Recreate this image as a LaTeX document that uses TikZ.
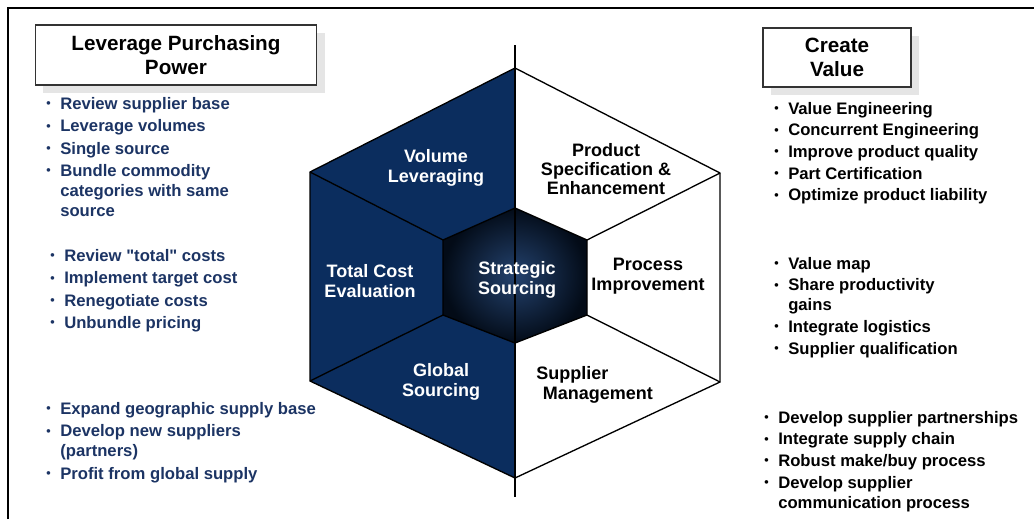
\documentclass[tikz,border=0pt]{standalone}
\usepackage{fontspec}
\setmainfont{Liberation Sans}
\usetikzlibrary{shadows}

\definecolor{hexnavy}{HTML}{0B2D5E}
\definecolor{listnavy}{HTML}{1C3464}

\newcommand{\bul}{\makebox[10.5pt][l]{\raisebox{1.2pt}{\scalebox{0.75}{\textbullet}}}}
\newcommand{\hang}{\makebox[10.5pt]{}}
\newcommand{\dquote}{\XeTeXglyph\XeTeXcharglyph"22\relax}

\tikzset{
  titlebox/.style={draw=black!80, line width=1.1pt, fill=white, align=center,
    font=\fontsize{15.5}{18}\selectfont\bfseries,
    drop shadow={shadow xshift=6pt, shadow yshift=-6pt, fill=black!10, opacity=1}},
  hexlabel/.style={align=center, inner sep=0pt, font=\fontsize{13.5}{14.5}\selectfont\bfseries},
  bulletlist/.style={align=left, anchor=north west, inner sep=0pt,
    font=\fontsize{12.5}{15}\selectfont\bfseries},
}

\begin{document}
\begin{tikzpicture}[x=0.75pt, y=-0.75pt]
\useasboundingbox (0,0) rectangle (1034,519);

% Frame
\draw[line width=1.5pt] (8,519) -- (8,8) -- (1034,8);

% Hexagon corners
\coordinate (top) at (515,68);
\coordinate (ur) at (720,173);
\coordinate (lr) at (720,382);
\coordinate (bot) at (515,478);
\coordinate (ll) at (310,381);
\coordinate (ul) at (310,172);

% Inner hexagon corners
\coordinate (itop) at (515,208);
\coordinate (iur) at (587,240);
\coordinate (ilr) at (587,315);
\coordinate (ibot) at (515,343);
\coordinate (ill) at (443,315);
\coordinate (iul) at (443,240);

% Left half in navy
\fill[hexnavy] (top) -- (ul) -- (ll) -- (bot) -- cycle;
\draw[line width=1pt] (top) -- (ur) -- (lr) -- (bot) -- (ll) -- (ul) -- cycle;

% Spokes
\draw[line width=1pt] (iul) -- (ul);
\draw[line width=1pt] (iur) -- (ur);
\draw[line width=1pt] (ilr) -- (lr);
\draw[line width=1pt] (ill) -- (ll);

% Centre
\shade[inner color=hexnavy!90!white, outer color=hexnavy!25!black] (itop) -- (iur) -- (ilr) -- (ibot) -- (ill) -- (iul) -- cycle;
\draw[line width=1pt] (itop) -- (iur) -- (ilr) -- (ibot) -- (ill) -- (iul) -- cycle;

% Axis
\coordinate (axistop) at (515,45);
\coordinate (axisbot) at (515,497);
\draw[line width=2pt] (axistop) -- (axisbot);

% Segment labels
\node[hexlabel, text=white] (volume) at (436,168) {Volume\\Leveraging};
\node[hexlabel, text=white] (totalcost) at (370,281) {Total Cost\\Evaluation};
\node[hexlabel, text=white] (global) at (441,382) {Global\\Sourcing};
\node[hexlabel, text=white] (strategic) at (517,280) {Strategic\\Sourcing};
\node[hexlabel] (product) at (606,169) {Product\\Specification \&\\Enhancement};
\node[hexlabel] (process) at (648,276) {Process\\Improvement};
\node[hexlabel, align=left, anchor=west] (supplier) at (536,385) {Supplier\\\hspace*{5pt}Management};

% Title boxes
\node[titlebox, minimum width=211pt, minimum height=45pt] (leverage) at (176,55) {Leverage Purchasing\\Power};
\node[titlebox, minimum width=111pt, minimum height=44pt] (create) at (837,57.5) {Create\\Value};

% Left lists
\node[bulletlist, text=listnavy] (levlist) at (46,97) {%
\bul Review supplier base\\[1.8pt]
\bul Leverage volumes\\[1.8pt]
\bul Single source\\[1.8pt]
\bul Bundle commodity\\
\hang categories with same\\
\hang source};
\node[bulletlist, text=listnavy] (costlist) at (50,249) {%
\bul Review \dquote total\dquote{} costs\\[1.8pt]
\bul Implement target cost\\[1.8pt]
\bul Renegotiate costs\\[1.8pt]
\bul Unbundle pricing};
\node[bulletlist, text=listnavy] (globallist) at (46,402) {%
\bul Expand geographic supply base\\[1.8pt]
\bul Develop new suppliers\\
\hang (partners)\\[1.8pt]
\bul Profit from global supply};

% Right lists
\node[bulletlist] (valuelist) at (774,102) {%
\bul Value Engineering\\[1.2pt]
\bul Concurrent Engineering\\[1.2pt]
\bul Improve product quality\\[1.2pt]
\bul Part Certification\\[1.2pt]
\bul Optimize product liability};
\node[bulletlist] (processlist) at (774,257) {%
\bul Value map\\[1.2pt]
\bul Share productivity\\
\hang gains\\[1.2pt]
\bul Integrate logistics\\[1.2pt]
\bul Supplier qualification};
\node[bulletlist] (supplierlist) at (764,411) {%
\bul Develop supplier partnerships\\[1.2pt]
\bul Integrate supply chain\\[1.2pt]
\bul Robust make/buy process\\[1.2pt]
\bul Develop supplier\\
\hang communication process};

\end{tikzpicture}
\end{document}
